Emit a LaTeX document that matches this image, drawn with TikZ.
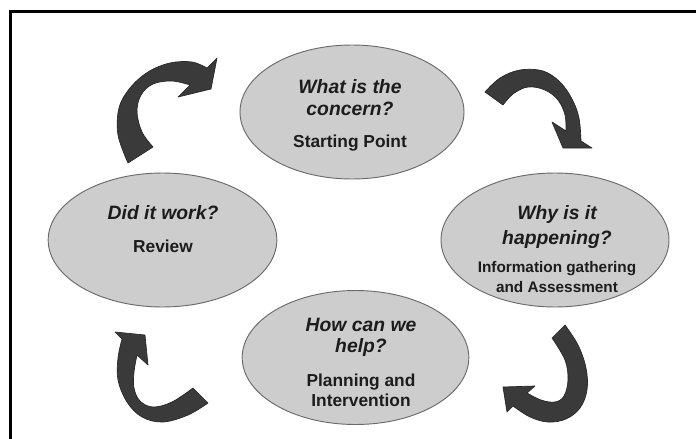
\documentclass[tikz,border=0pt]{standalone}
\usepackage{fontspec}
\setmainfont{Liberation Sans}
\usetikzlibrary{shapes.geometric}
\definecolor{ellfill}{HTML}{CDCDCD}
\definecolor{elldraw}{HTML}{6A6A6A}
\definecolor{arrfill}{HTML}{3A3A3A}
\definecolor{arrdraw}{HTML}{262626}
\definecolor{txt}{HTML}{1C1C1C}
\tikzset{
  stage/.style={ellipse, draw=elldraw, fill=ellfill, line width=0.7pt, inner sep=0pt, minimum height=100.5pt},
  question/.style={anchor=base, text=txt, font=\fontsize{14.5}{17}\selectfont\bfseries\itshape, inner sep=0pt},
  subtitle/.style={anchor=base, text=txt, font=\fontsize{13}{15}\selectfont\bfseries, inner sep=0pt},
  subsmall/.style={anchor=base, text=txt, font=\fontsize{11.5}{14}\selectfont\bfseries, inner sep=0pt},
  curvearrow/.style={fill=arrfill, draw=arrdraw, line width=0.5pt, line join=round},
  frameline/.style={line width=2.6pt, draw=black}
}
\begin{document}
\begin{tikzpicture}[x=0.75pt, y=-0.75pt]
\useasboundingbox (0,0) rectangle (696,439);
\fill[white] (0,0) rectangle (696,439);
% frame (top and left edges)
\coordinate (fb) at (10.5,439);
\coordinate (fc) at (10.5,11.5);
\coordinate (fr) at (696,11.5);
\draw[frameline] (fb) -- (fc) -- (fr);

% stages
\node[stage, minimum width=168pt] (top) at (352,112) {};
\node[stage, minimum width=171.5pt] (left) at (162.5,240) {};
\node[stage, minimum width=171pt] (right) at (555,240) {};
\node[stage, minimum width=170pt] (bottom) at (355.5,357.5) {};

% texts
\node[question] (q1a) at (350,93) {What is the};
\node[question] (q1b) at (350,115) {concern?};
\node[subtitle] (s1) at (350,147.5) {Starting Point};

\node[question] (q2) at (163,219) {Did it work?};
\node[subtitle] (s2) at (163,252) {Review};

\node[question] (q3a) at (557,219) {Why is it};
\node[question] (q3b) at (557,244) {happening?};
\node[subsmall] (s3a) at (557,272) {Information gathering};
\node[subsmall] (s3b) at (557,292) {and Assessment};

\node[question] (q4a) at (361,331) {How can we};
\node[question] (q4b) at (361,352) {help?};
\node[subtitle] (s4a) at (361,386) {Planning and};
\node[subtitle] (s4b) at (361,406) {Intervention};

% arrow 1 (top-left)
\draw[curvearrow] plot[smooth, tension=0.6] coordinates {(128,163) (118,135) (119,108) (130,88) (148,72) (170,63) (192,62) (207,68)}
  -- (217,58) -- (211,89) -- (178,97) -- (190,85)
  -- plot[smooth, tension=0.6] coordinates {(190,85) (172,81) (153,84) (141,95) (137,112) (142,132) (153,147)} -- cycle;

% arrow 2 (top-right)
\draw[curvearrow] plot[smooth, tension=0.6] coordinates {(485,92) (500,78) (520,70) (543,71) (560,82) (572,99) (579,118) (581,141)}
  -- (592,148) -- (563,148) -- (552,122) -- (566,131)
  -- plot[smooth, tension=0.6] coordinates {(566,131) (565,115) (558,100) (545,90) (528,87) (513,94) (503,105)} -- cycle;

% arrow 3 (bottom-right)
\draw[curvearrow] plot[smooth, tension=0.6] coordinates {(565,325) (578,345) (586,368) (587,390) (580,408) (566,419) (548,422) (530,417) (513,406)}
  -- (507,412) -- (503,387) -- (535,386) -- (527,393)
  -- plot[smooth, tension=0.6] coordinates {(527,393) (541,400) (555,402) (564,396) (568,380) (565,360) (552,338)} -- cycle;

% arrow 4 (bottom-left)
\draw[curvearrow] plot[smooth, tension=0.6] coordinates {(208,403) (188,415) (163,422) (142,417) (127,402) (118,380) (118,358) (122,339)}
  -- (115,332) -- (145,335) -- (148,365) -- (137,355)
  -- plot[smooth, tension=0.6] coordinates {(137,355) (134,372) (134,388) (140,401) (153,407) (172,402) (193,388)} -- cycle;
\end{tikzpicture}
\end{document}
